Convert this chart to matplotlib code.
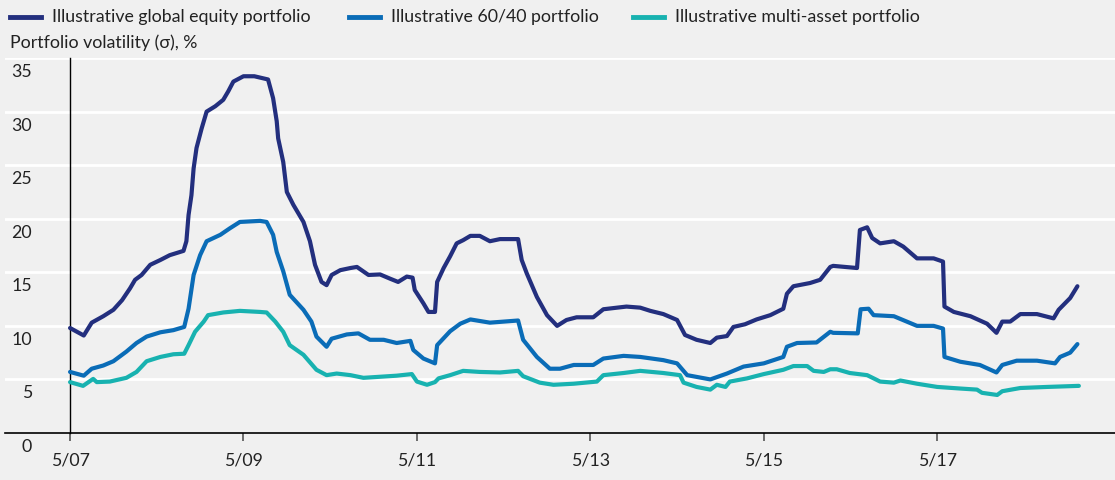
import matplotlib
matplotlib.use('Agg')
import matplotlib.pyplot as plt
from matplotlib.lines import Line2D
from matplotlib import transforms

# x values: months after May 2007
eq_m = [0, 1.9, 3.0, 4.6, 6.0, 7.2, 8.3, 9.0, 9.9, 11.1, 12.5, 13.8, 15.7, 16.1, 16.4, 16.8,
        17.1, 17.5, 18.2, 18.9, 20.1, 21.2, 21.9, 22.6, 24.0, 25.5, 27.4, 28.1, 28.6, 28.8,
        29.5, 30.0, 30.9, 32.3, 33.2, 33.9, 34.8, 35.5, 36.2, 37.4, 38.8, 39.7, 41.3, 42.9,
        44.3, 45.4, 46.6, 47.4, 47.7, 48.9, 49.6, 50.5, 50.8, 51.7, 52.6, 53.5, 54.4, 55.4,
        56.7, 58.1, 59.5, 62.0, 62.5, 63.2, 64.6, 66.0, 67.4, 68.7, 70.1, 72.4, 73.8, 75.7,
        77.0, 78.9, 80.3, 82.1, 84.0, 85.1, 86.7, 88.6, 89.5, 90.9, 91.8, 93.4, 95.0, 96.9,
        98.7, 99.2, 100.1, 102.4, 103.8, 105.2, 105.6, 108.9, 109.3, 110.3, 111.0, 112.1,
        114.0, 115.3, 117.2, 119.5, 120.8, 121.0, 122.3, 124.6, 126.9, 128.2, 129.0, 130.1,
        131.5, 133.8, 136.1, 136.8, 138.4, 139.4]
eq_v = [9.8, 9.1, 10.3, 10.9, 11.5, 12.4, 13.5, 14.3, 14.75, 15.7, 16.15, 16.6, 17.0, 17.9, 20.35, 22.2,
        24.7, 26.6, 28.4, 30.0, 30.5, 31.1, 31.9, 32.8, 33.3, 33.3, 33.0, 31.25, 29.1, 27.5,
        25.3, 22.5, 21.3, 19.7, 17.9, 15.7, 14.1, 13.8, 14.75, 15.2, 15.4, 15.5, 14.75, 14.8,
        14.4, 14.1, 14.6, 14.5, 13.35, 12.1, 11.3, 11.3, 14.1, 15.4, 16.5, 17.7, 18.0, 18.4,
        18.4, 17.9, 18.1, 18.1, 16.15, 14.9, 12.7, 11.0, 10.0, 10.55, 10.8, 10.8, 11.55, 11.7,
        11.8, 11.7, 11.4, 11.1, 10.55, 9.15, 8.7, 8.4, 8.9, 9.05, 9.9, 10.15, 10.6, 11.0,
        11.6, 13.0, 13.7, 14.0, 14.3, 15.5, 15.6, 15.4, 18.95, 19.2, 18.2, 17.7,
        17.9, 17.4, 16.3, 16.3, 16.0, 11.8, 11.3, 10.9, 10.2, 9.35, 10.4, 10.4,
        11.1, 11.1, 10.7, 11.5, 12.6, 13.7]

bal_m = [0, 1.9, 3.0, 4.6, 6.0, 7.8, 9.2, 10.6, 12.5, 14.3, 15.8, 16.4, 17.1, 18.0, 18.9, 20.8,
         22.1, 23.5, 26.3, 27.2, 28.1, 28.6, 29.5, 30.4, 32.3, 33.4, 34.1, 35.5, 36.2, 38.3,
         39.9, 41.5, 43.4, 45.2, 47.1, 47.5, 48.9, 50.5, 50.8, 52.6, 54.0, 55.4, 58.1, 62.0,
         62.7, 64.6, 66.4, 67.8, 69.7, 72.4, 73.8, 76.6, 78.9, 82.1, 84.0, 85.4, 88.6, 90.9,
         93.2, 96.0, 98.7, 99.2, 100.6, 103.3, 105.2, 105.6, 109.0, 109.4, 110.5, 111.2,
         114.0, 117.2, 119.5, 120.8, 121.0, 123.2, 125.9, 128.2, 129.0, 131.0, 133.8,
         136.3, 137.0, 138.4, 139.4]
bal_v = [5.7, 5.35, 6.0, 6.3, 6.7, 7.6, 8.4, 9.0, 9.4, 9.6, 9.9, 11.6, 14.75, 16.6, 17.9, 18.5,
         19.1, 19.7, 19.8, 19.7, 18.5, 16.9, 15.1, 12.9, 11.5, 10.4, 9.0, 8.05, 8.8, 9.2,
         9.3, 8.7, 8.7, 8.4, 8.6, 7.75, 6.95, 6.5, 8.2, 9.5, 10.2, 10.6, 10.3, 10.5,
         8.7, 7.1, 6.0, 6.0, 6.35, 6.35, 6.95, 7.2, 7.1, 6.8, 6.5, 5.4, 5.0, 5.55,
         6.2, 6.5, 7.1, 8.05, 8.4, 8.45, 9.45, 9.35, 9.3, 11.55, 11.6, 11.0,
         10.9, 10.0, 10.0, 9.75, 7.1, 6.65, 6.35, 5.65, 6.35, 6.75, 6.75,
         6.5, 7.1, 7.5, 8.3]

ma_m = [0, 1.8, 3.2, 3.7, 5.5, 7.8, 9.2, 10.6, 12.5, 14.3, 15.8, 16.4, 17.3, 18.5, 19.1, 21.2,
        23.5, 26.3, 27.2, 28.4, 29.5, 30.4, 32.3, 34.1, 35.5, 36.9, 38.8, 40.6, 42.9, 45.2,
        47.3, 48.0, 49.4, 50.5, 51.0, 52.6, 54.4, 56.7, 59.5, 62.0, 62.7, 65.0, 66.9, 69.7,
        72.9, 73.8, 76.6, 78.9, 82.1, 84.4, 84.9, 86.7, 88.6, 89.5, 90.7, 91.3, 93.7, 96.0,
        98.7, 100.1, 102.0, 102.9, 104.3, 105.2, 106.1, 107.9, 110.3, 112.1, 114.0, 114.9,
        117.2, 120.0, 123.2, 125.5, 126.2, 128.3, 129.0, 131.5, 135.2, 139.6]
ma_v = [4.75, 4.4, 5.05, 4.75, 4.8, 5.15, 5.7, 6.7, 7.1, 7.35, 7.4, 8.2, 9.45, 10.4, 11.0, 11.25,
        11.4, 11.3, 11.25, 10.4, 9.45, 8.2, 7.3, 5.9, 5.4, 5.55, 5.4, 5.15, 5.25, 5.35,
        5.5, 4.8, 4.5, 4.75, 5.1, 5.4, 5.8, 5.7, 5.65, 5.8, 5.3, 4.7, 4.5, 4.6,
        4.8, 5.4, 5.6, 5.8, 5.6, 5.4, 4.7, 4.3, 4.05, 4.5, 4.3, 4.8, 5.1, 5.5,
        5.9, 6.25, 6.25, 5.8, 5.7, 5.95, 5.95, 5.6, 5.4, 4.8, 4.7, 4.9,
        4.6, 4.3, 4.15, 4.05, 3.75, 3.55, 3.9, 4.2, 4.3, 4.4]

tick_pos = [0, 24, 48, 72, 96, 120]
tick_labels = ['5/07', '5/09', '5/11', '5/13', '5/15', '5/17']
y_ticks = [0, 5, 10, 15, 20, 25, 30, 35]

names = ['Illustrative global equity portfolio', 'Illustrative 60/40 portfolio',
         'Illustrative multi-asset portfolio']
colors = ['#232f7e', '#0a6cb7', '#18b2b0']

plt.rcParams['font.family'] = ['Lato', 'DejaVu Sans']
bg = '#f0f0f0'
fs = 12.8

fig = plt.figure(figsize=(11.15, 4.8), dpi=100, facecolor=bg)
ax = fig.add_axes([5 / 1115, 47 / 480, 1110 / 1115, 375.5 / 480])
ax.set_facecolor(bg)

for m, v, c in zip([eq_m, bal_m, ma_m], [eq_v, bal_v, ma_v], colors):
    ax.plot(m, v, color=c, lw=3, solid_capstyle='round', solid_joinstyle='round', zorder=3)

ax.set_xlim(-9.0, 144.6)
ax.set_ylim(0, 35.05)

for s in ['top', 'right']:
    ax.spines[s].set_visible(False)
ax.spines['left'].set_position(('data', 0))
ax.spines['left'].set_linewidth(1)
ax.spines['bottom'].set_linewidth(1.2)

ax.set_yticks(y_ticks[1:])
ax.yaxis.grid(True, color='white', lw=2)
ax.tick_params(axis='y', length=0, labelleft=False)
ax.set_xticks(tick_pos)
ax.set_xticklabels(tick_labels)
ax.tick_params(axis='x', length=6, width=1.2, color='#555555', pad=8, labelsize=fs, labelcolor='#222222')
ax.set_axisbelow(True)

# y labels sit under their grid lines
trans = transforms.blended_transform_factory(ax.transAxes, ax.transData)
trans = transforms.offset_copy(trans, fig=fig, y=-14, units='dots')
for t in y_ticks:
    ax.text(27 / 1110, t, str(t), transform=trans, ha='right', va='center',
            fontsize=fs, color='#222222')

fig.text(10 / 1115, 1 - 43 / 480, 'Portfolio volatility (σ), %', ha='left', va='center',
         fontsize=fs, color='#222222', family=['Lato', 'DejaVu Sans'])

# legend
leg_line = [(10, 41), (349, 380), (633, 664)]
leg_text = [52, 391, 675]
for (x0, x1), xt, n, c in zip(leg_line, leg_text, names, colors):
    fig.add_artist(Line2D([x0 / 1115, x1 / 1115], [1 - 17 / 480] * 2, color=c, lw=3.5,
                          transform=fig.transFigure))
    fig.text(xt / 1115, 1 - 17 / 480, n, ha='left', va='center', fontsize=fs, color='#222222')

fig.savefig('out.png', dpi=100, facecolor=bg)
